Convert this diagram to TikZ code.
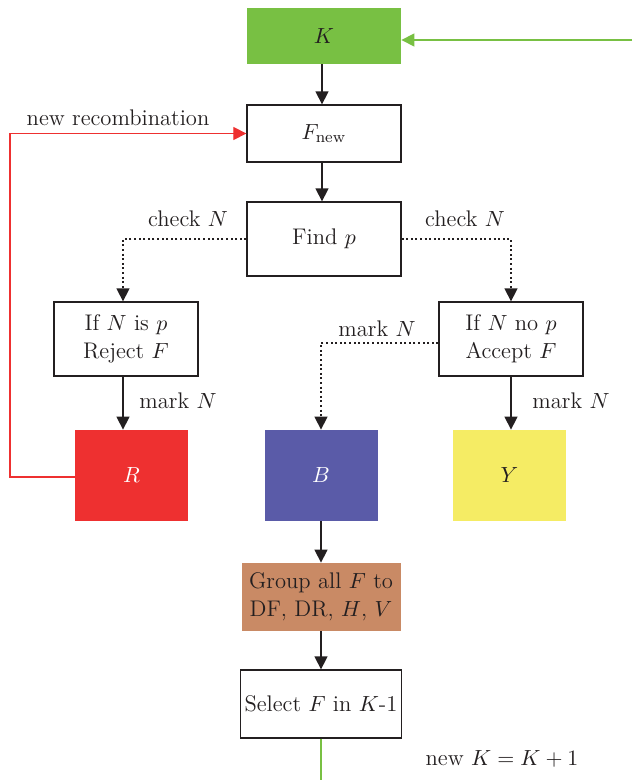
\documentclass[tikz,border=0pt]{standalone}
\usetikzlibrary{arrows.meta}
\definecolor{kgreen}{HTML}{78C043}
\definecolor{rred}{HTML}{EE3030}
\definecolor{bblue}{HTML}{5A5BA8}
\definecolor{yyellow}{HTML}{F5EC64}
\definecolor{gbrown}{HTML}{C98A65}
\definecolor{ink}{HTML}{231F20}
\begin{document}
\begin{tikzpicture}[x=0.5pt,y=-0.5pt,
  font=\fontsize{11.3}{14}\selectfont, text=ink,
  box/.style={draw=ink, line width=0.65pt, fill=white, inner sep=2pt, align=center},
  solidbox/.style={inner sep=2pt, align=center},
  tip/.style={-{Triangle[length=6.5pt,width=6.5pt]}},
  flow/.style={draw=ink, line width=0.7pt, tip},
  dotflow/.style={flow, dash pattern=on 1pt off 1.3pt},
  lbl/.style={inner sep=0pt}]
\useasboundingbox (0,0) rectangle (632,780);

% process boxes
\node[solidbox, fill=kgreen, minimum width=77pt, minimum height=28pt] (K) at (324,36) {$K$};
\node[box, minimum width=77pt, minimum height=28.5pt] (Fnew) at (324,133.5) {$F_{\mathrm{new}}$};
\node[box, minimum width=77pt, minimum height=37pt] (Findp) at (324,239) {Find $p$};
\node[box, minimum width=72pt, minimum height=37pt] (IfP) at (126,339) {If $N$ is $p$\\Reject $F$};
\node[box, minimum width=72pt, minimum height=37pt] (IfNo) at (511,339) {If $N$ no $p$\\Accept $F$};

% result sets
\node[solidbox, fill=rred, text=white, minimum width=56.5pt, minimum height=45.5pt] (R) at (131.5,475.5) {$R$};
\node[solidbox, fill=bblue, text=white, minimum width=56.5pt, minimum height=45.5pt] (B) at (321,475.5) {$B$};
\node[solidbox, fill=yyellow, minimum width=56.5pt, minimum height=45.5pt] (Y) at (509.5,475.5) {$Y$};

\node[solidbox, fill=gbrown, minimum width=79.5pt, minimum height=34pt] (Group) at (321,597) {Group all $F$ to\\DF, DR, $H$, $V$};
\node[box, minimum width=79.5pt, minimum height=34pt] (Select) at (321,704) {Select $F$ in $K$-1};

% free ends
\coordinate (gin) at (632,40);
\coordinate (gout) at (321,780);
\coordinate (loopx) at (10,477);

% main flow
\draw[flow] (K.south -| 322,0) -- (Fnew.north -| 322,0);
\draw[flow] (Fnew.south -| 322,0) -- (Findp.north -| 322,0);
\draw[dotflow] (Findp.west) -| (IfP.north -| 123,0);
\draw[dotflow] (Findp.east) -| (IfNo.north);
\draw[flow] (IfP.south -| 123,0) -- (R.north -| 123,0);
\draw[flow] (IfNo) -- (IfNo.south |- Y.north);
\draw[dotflow] (IfNo.west |- 0,343) -| (B.north);
\draw[flow] (B) -- (Group);
\draw[flow] (Group) -- (Select);

% feedback loops
\draw[draw=rred, line width=0.6pt, tip] (R.west |- loopx) -- (loopx) |- (Fnew.west);
\draw[draw=kgreen, line width=0.65pt, tip] (gin) -- (gin -| K.east);
\draw[draw=kgreen, line width=0.65pt] (Select.south) -- (gout);

% labels
\node[lbl] at (118,118) {new recombination};
\node[lbl] at (188,219) {check $N$};
\node[lbl] at (465,219) {check $N$};
\node[lbl] at (377,329) {mark $N$};
\node[lbl] at (178,401) {mark $N$};
\node[lbl] at (571,401) {mark $N$};
\node[lbl] at (502,759) {new $K = K + 1$};
\end{tikzpicture}
\end{document}
